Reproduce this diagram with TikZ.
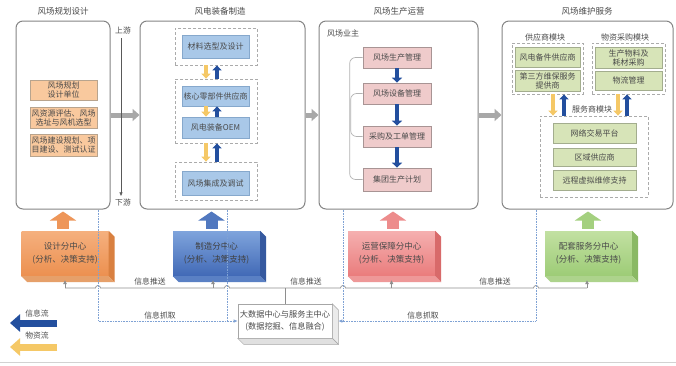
\documentclass[tikz,border=0pt]{standalone}
\usepackage{fontspec}
\setmainfont{Noto Sans CJK SC}
\usetikzlibrary{arrows.meta,calc}
\definecolor{colB}{HTML}{858585}
\definecolor{txt}{HTML}{4A4A4A}
\definecolor{grpB}{HTML}{ABABAB}
\definecolor{oF}{HTML}{F9C99E}\definecolor{oD}{HTML}{B8A48E}
\definecolor{bF}{HTML}{A9C8E8}\definecolor{bD}{HTML}{86A8CC}
\definecolor{pF}{HTML}{EFCBCB}\definecolor{pD}{HTML}{A89494}
\definecolor{gF}{HTML}{D7E4B8}\definecolor{gD}{HTML}{A3AD8E}
\definecolor{yel}{HTML}{F5C866}
\definecolor{dblue}{HTML}{234F9E}
\definecolor{garrow}{HTML}{A8A8A8}
\definecolor{or1}{HTML}{F5B07E}\definecolor{or2}{HTML}{EC9050}\definecolor{or3}{HTML}{D98040}\definecolor{or4}{HTML}{E6A06A}
\definecolor{bl1}{HTML}{7FA4DC}\definecolor{bl2}{HTML}{4169B6}\definecolor{bl3}{HTML}{35599F}\definecolor{bl4}{HTML}{5A80C4}
\definecolor{pk1}{HTML}{F5B0B0}\definecolor{pk2}{HTML}{EA7C7C}\definecolor{pk3}{HTML}{D86A6A}\definecolor{pk4}{HTML}{EE9898}
\definecolor{gr1}{HTML}{C2E0A2}\definecolor{gr2}{HTML}{9DCC76}\definecolor{gr3}{HTML}{8AB964}\definecolor{gr4}{HTML}{ADD38C}
\definecolor{pushc}{HTML}{8E8E8E}
\definecolor{pullc}{HTML}{7FA2D4}
\begin{document}
\begin{tikzpicture}[x=1pt,y=-1pt,
  font=\fontsize{8}{9}\selectfont, text=txt,
  col/.style={draw=colB, line width=1pt, rounded corners=7pt, fill=white, inner sep=0pt},
  ttl/.style={font=\fontsize{8.5}{10}\selectfont},
  grp/.style={draw=grpB, line width=0.8pt, dash pattern=on 3pt off 2pt, fill=white, inner sep=0pt},
  ibox/.style={inner sep=0pt, align=center, line width=0.7pt},
  obox/.style={ibox, fill=oF, draw=oD, minimum width=67pt},
  bbox/.style={ibox, fill=bF, draw=bD, minimum width=67pt},
  pbox/.style={ibox, fill=pF, draw=pD, minimum width=68pt},
  gbox/.style={ibox, fill=gF, draw=gD},
  garr/.style={draw=garrow, line width=5pt, -{Triangle[length=7pt,width=12pt]}},
  yarr/.style={draw=yel, line width=3.5pt, -{Triangle[length=5pt,width=9pt]}},
  barr/.style={draw=dblue, line width=3.5pt, -{Triangle[length=5pt,width=9pt]}},
  blk/.style={line width=12pt, -{Triangle[length=9pt,width=26pt]}},
  cen/.style={minimum width=87pt, minimum height=45pt, align=center, inner sep=0pt, font=\fontsize{8.5}{13}\selectfont},
  push/.style={draw=pushc, line width=0.7pt},
  pull/.style={draw=pullc, line width=0.7pt, dash pattern=on 1pt off 0.6pt},
  tip/.style={-{Triangle[length=4pt,width=3.5pt]}},
  lab/.style={font=\fontsize{7.8}{9}\selectfont}
]
\useasboundingbox (0,0) rectangle (676,365);
\fill[white] (0,0) rectangle (676,365);
\draw[gray!35, line width=0.6pt] (0,362) -- (676,362);

% ---------- columns ----------
\node[col, minimum width=94pt, minimum height=188pt] (col1) at (63,115) {};
\node[col, minimum width=165pt, minimum height=188pt] (col2) at (222.5,115) {};
\node[col, minimum width=159pt, minimum height=188pt] (col3) at (398.5,115) {};
\node[col, minimum width=171pt, minimum height=188pt] (col4) at (587.5,115) {};
\node[ttl] (t1) at (63,11) {风场规划设计};
\node[ttl] (t2) at (220,11) {风电装备制造};
\node[ttl] (t3) at (399,11) {风场生产运营};
\node[ttl] (t4) at (587,11) {风场维护服务};

% gray arrows between columns
\draw[garr] (col1.east) -- (col2.west);
\draw[garr] (col2.east) -- (col3.west);
\draw[garr] (col3.east) -- (col4.west);

% ---------- column 1 ----------
\node[lab] (up) at (123,31) {上游};
\node[lab] (down) at (123,203) {下游};
\draw[draw=black!65, line width=0.5pt, -{Triangle[length=3.5pt,width=3pt]}] ([xshift=-2pt]up.south) -- ([xshift=-2pt]down.north);
\node[obox, minimum height=20pt] (o1) at (63.5,90) {风场规划\\设计单位};
\node[obox, minimum height=21pt] (o2) at (63.5,117.5) {风资源评估、风场\\选址与风机选型};
\node[obox, minimum height=22pt] (o3) at (63.5,145) {风场建设规划、项\\目建设、测试认证};

% ---------- column 2 ----------
\node[grp, minimum width=82pt, minimum height=37pt] (g1) at (216,46.5) {};
\node[grp, minimum width=82pt, minimum height=64pt] (g2) at (216,111) {};
\node[grp, minimum width=82pt, minimum height=38pt] (g3) at (216,181) {};
\node[bbox, minimum height=23pt] (b1) at (215.5,46.5) {材料选型及设计};
\node[bbox, minimum height=20pt] (b2) at (215.5,96) {核心零部件供应商};
\node[bbox, minimum height=21pt] (b3) at (215.5,127.5) {风电装备OEM};
\node[bbox, minimum height=24pt] (b4) at (215.5,183) {风场集成及调试};
\draw[yarr] ([xshift=-10pt]g1.south) -- ([xshift=-10pt]g2.north);
\draw[barr] ([xshift=1pt]g2.north) -- ([xshift=1pt]g1.south);
\draw[yarr] ([xshift=-9.5pt]b2.south) -- ([xshift=-9.5pt]b3.north);
\draw[barr] ([xshift=1.5pt]b3.north) -- ([xshift=1.5pt]b2.south);
\draw[yarr] ([xshift=-10pt]g2.south) -- ([xshift=-10pt]g3.north);
\draw[barr] ([xshift=1pt]g3.north) -- ([xshift=1pt]g2.south);

% ---------- column 3 ----------
\node (owner) at (343,33) {风场业主};
\node[pbox, minimum height=21pt] (p1) at (397,57.5) {风场生产管理};
\node[pbox, minimum height=21pt] (p2) at (397,93.5) {风场设备管理};
\node[pbox, minimum height=21pt] (p3) at (397,136.5) {采购及工单管理};
\node[pbox, minimum height=23pt] (p4) at (397,179.5) {集团生产计划};
\draw[draw=black!30, line width=0.7pt, rounded corners=6pt] (p1.west) -- ++(-13,0) |- (p4.west);
\draw[draw=black!30, line width=0.7pt, rounded corners=6pt] (p2.west) -- ++(-12,0) |- (p3.west);
\draw[draw=dblue, line width=4.5pt, -{Triangle[length=5pt,width=10pt]}] (p1.south) -- (p2.north);
\draw[draw=dblue, line width=4.5pt, -{Triangle[length=5pt,width=10pt]}] (p2.south) -- (p3.north);
\draw[draw=dblue, line width=4.5pt, -{Triangle[length=5pt,width=10pt]}] (p3.south) -- (p4.north);

% ---------- column 4 ----------
\node (supl) at (545,37) {供应商模块};
\node (procl) at (625,37) {物资采购模块};
\node[grp, minimum width=71pt, minimum height=51pt] (sg) at (547.5,68.5) {};
\node[grp, minimum width=73pt, minimum height=51pt] (mg) at (628.5,68.5) {};
\node[gbox, minimum width=65pt, minimum height=20pt] (s1) at (547.5,57) {风电备件供应商};
\node[gbox, minimum width=65pt, minimum height=21pt] (s2) at (547.5,80.5) {第三方维保服务\\提供商};
\node[gbox, minimum width=67pt, minimum height=21pt] (m1) at (628.5,57.5) {生产物料及\\耗材采购};
\node[gbox, minimum width=67pt, minimum height=19pt] (m2) at (628.5,80.5) {物流管理};
\node[grp, minimum width=108pt, minimum height=81pt] (vg) at (594,156.5) {};
\node (servl) at (592,109) {服务商模块};
\node[gbox, minimum width=83pt, minimum height=20pt] (v1) at (594.5,133) {网络交易平台};
\node[gbox, minimum width=83pt, minimum height=18pt] (v2) at (594.5,157) {区域供应商};
\node[gbox, minimum width=83pt, minimum height=20pt] (v3) at (594.5,180) {远程虚拟维修支持};
\draw[yarr] ($(sg.south)+(5.5,0)$) -- ($(sg.south |- vg.north)+(5.5,0)$);
\draw[barr] ($(sg.south |- vg.north)+(16.5,0)$) -- ($(sg.south)+(16.5,0)$);
\draw[yarr] ($(mg.south)+(-10.5,0)$) -- ($(mg.south |- vg.north)+(-10.5,0)$);
\draw[barr] ($(mg.south |- vg.north)+(-1.5,0)$) -- ($(mg.south)+(-1.5,0)$);

% ---------- sub centres (3D boxes) ----------
\newcommand{\sidefaces}[3]{%
  \fill[#2] (#1.north east) -- ++(6,6) -- ($(#1.south east)+(6,6)$) -- (#1.south east) -- cycle;
  \fill[#3] (#1.south west) -- (#1.south east) -- ++(6,6) -- ($(#1.south west)+(6,6)$) -- cycle;}
\node[cen, top color=or1, bottom color=or2] (dc) at (65,253.5) {设计分中心\\(分析、决策支持)};
\sidefaces{dc}{or3}{or4}
\node[cen, top color=bl1, bottom color=bl2, text=black!75] (mc) at (216.5,253.5) {制造分中心\\(分析、决策支持)};
\sidefaces{mc}{bl3}{bl4}
\node[cen, top color=pk1, bottom color=pk2] (oc) at (391.5,253.5) {运营保障分中心\\(分析、决策支持)};
\sidefaces{oc}{pk3}{pk4}
\node[cen, top color=gr1, bottom color=gr2] (sc) at (588.5,253.5) {配套服务分中心\\(分析、决策支持)};
\sidefaces{sc}{gr3}{gr4}

% block arrows up into columns
\draw[blk, draw=or2!80!or1] ($(dc.north)+(-2,-2)$) -- ($(dc.north |- col1.south)+(-2,2)$);
\draw[blk, draw=bl2!75!bl1] ($(mc.north)+(-5,-2)$) -- ($(mc.north |- col2.south)+(-5,2)$);
\draw[blk, draw=pk2!70!pk1] ($(oc.north)+(1.5,-2)$) -- ($(oc.north |- col3.south)+(1.5,2)$);
\draw[blk, draw=gr2!80!gr1] ($(sc.north)+(-0.5,-2)$) -- ($(sc.north |- col4.south)+(-0.5,2)$);

% ---------- big data centre ----------
\node[draw=black!35, fill=white, line width=0.6pt, minimum width=94pt, minimum height=34pt, align=center, inner sep=0pt, font=\fontsize{8.2}{12}\selectfont] (bd) at (285,321) {大数据中心与服务主中心\\(数据挖掘、信息融合)};
\filldraw[fill=black!8, draw=black!35, line width=0.5pt] (bd.north east) -- ++(6,6) -- ($(bd.south east)+(6,6)$) -- (bd.south east) -- cycle;
\filldraw[fill=black!12, draw=black!35, line width=0.5pt] (bd.south west) -- (bd.south east) -- ++(6,6) -- ($(bd.south west)+(6,6)$) -- cycle;

% ---------- information push (gray) ----------
\coordinate (q1) at (65,288);
\coordinate (q2) at (213,288);
\coordinate (q3) at (391.5,288);
\coordinate (q4) at (587,288);
\coordinate (q0) at (bd.north |- 0,288);
\draw[push] (q1) -- (95.5,288) arc[start angle=180,end angle=0,radius=2.5pt]
  -- (224.5,288) arc[start angle=180,end angle=0,radius=2.5pt]
  -- (340.5,288) arc[start angle=180,end angle=0,radius=2.5pt]
  -- (533.5,288) arc[start angle=180,end angle=0,radius=2.5pt] -- (q4);
\draw[push] (q0) -- (bd.north);
\draw[push, tip] (q1) -- ($(dc.south)+(0,4)$);
\draw[push, tip] (q2) -- ($(mc.south)+(-3.5,4)$);
\draw[push, tip] (q3) -- ($(oc.south)+(0,4)$);
\draw[push, tip] (q4) -- ($(sc.south)+(-1.5,4)$);
\node[lab] (ip1) at (150,281) {信息推送};
\node[lab] (ip2) at (306,281) {信息推送};
\node[lab] (ip3) at (495,281) {信息推送};

% ---------- information pull (blue dotted) ----------
\coordinate (r1) at (98,321);
\coordinate (r2) at (227,321);
\coordinate (r3) at (343,321);
\coordinate (r4) at (536,321);
\draw[pull, -{Latex[length=4pt,width=3.5pt]}] (col1.south -| r1) -- (r1) -- (bd.west);
\draw[pull] (col2.south -| r2) -- (r2);
\draw[pull, -{Latex[length=4pt,width=3.5pt]}] (col3.south -| r3) -- (r3) -- ($(bd.east)+(6,0)$);
\draw[pull] (col4.south -| r4) -- (r4) -- (r3);
\node[lab] (ig1) at (160,315) {信息抓取};
\node[lab] (ig2) at (423,315) {信息抓取};

% ---------- legend ----------
\node[lab] (lg1) at (37,313) {信息流};
\node[lab] (lg2) at (37,336) {物资流};
\coordinate (la1) at (57,323); \coordinate (la2) at (10,323);
\coordinate (lb1) at (57,347); \coordinate (lb2) at (10,347);
\draw[draw=dblue, line width=7pt, -{Triangle[length=10pt,width=17pt]}] (la1) -- (la2);
\draw[draw=yel, line width=7pt, -{Triangle[length=10pt,width=17pt]}] (lb1) -- (lb2);
\end{tikzpicture}
\end{document}
